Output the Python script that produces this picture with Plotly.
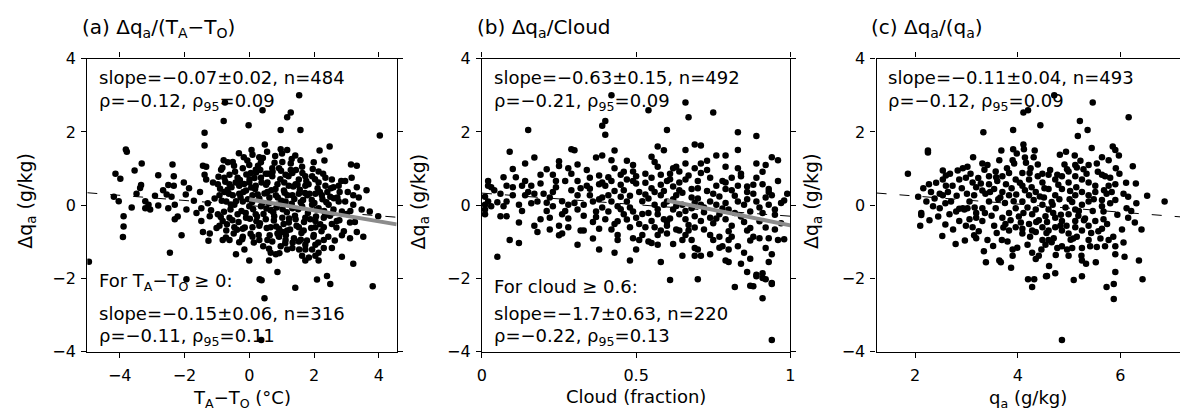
import plotly.graph_objects as go

# ---------------- data ----------------
# Panel (a): (T_A - T_O [degC], dq_a [g/kg])
panel_a_points = [
    (-0.75, 2.80), (1.54, 3.00), (0.41, 2.59), (1.17, 2.40), (1.28, 2.53), (-0.79, 2.30), (-0.02, 2.18),
    (0.97, 2.05), (1.58, 2.05), (-1.38, 1.98), (4.03, 1.90),
    (-1.38, 1.63), (0.48, 1.66), (0.97, 1.53), (1.17, 1.51), (2.17, 1.49), (2.48, 1.60), (-3.81, 1.52),
    (-3.78, 1.46), (0.07, 1.51), (0.10, 1.38), (-0.17, 1.31), (0.31, 1.31), (0.36, 1.17), (0.80, 1.34),
    (-0.79, 1.23), (-0.66, 1.17), (-0.51, 1.18), (1.58, 1.23), (1.63, 1.05), (1.99, 1.17), (3.14, 1.11),
    (3.32, 1.08), (-3.32, 1.14), (-2.37, 1.11), (-1.43, 1.08), (-1.33, 1.05), (1.02, 1.18), (0.92, 1.01),
    (0.71, 1.01), (1.28, 1.14), (0.00, 1.10),
    (-4.13, 0.86), (-3.98, 0.72), (-3.54, 0.95), (-2.81, 0.82), (-2.33, 0.79), (-1.38, 0.83), (-1.33, 0.70),
    (-0.87, 0.97), (-0.77, 0.75), (-0.61, 0.83), (-0.36, 0.75), (-0.20, 1.01), (0.05, 0.88), (0.20, 0.97),
    (0.36, 0.75), (0.51, 0.86), (0.71, 0.79), (1.12, 0.83), (1.33, 0.88), (1.53, 0.70), (1.73, 0.79),
    (1.94, 0.79), (2.14, 0.92), (2.35, 0.75), (2.55, 0.70), (2.76, 0.53), (2.96, 0.66), (3.16, 0.75),
    (3.32, 0.49), (-0.97, 0.57), (-0.61, 0.57), (-0.31, 0.53), (0.00, 0.62), (0.20, 0.53), (0.56, 0.62),
    (0.87, 0.57), (1.22, 0.53), (1.43, 0.57), (1.73, 0.53), (2.14, 0.62), (2.35, 0.53), (2.60, 0.49),
    (-2.50, 0.55), (-2.33, 0.53), (-3.34, 0.55), (-3.37, 0.47), (-1.86, 0.46), (-2.55, 0.29), (-2.40, 0.23),
    (-1.96, 0.29), (-4.18, 0.23), (-4.03, 0.11), (-3.21, 0.11), (-3.11, 0.01), (-3.21, -0.08), (-3.06, -0.12),
    (-2.81, -0.01), (-2.50, -0.08), (-2.30, 0.01), (-1.94, -0.12), (-1.63, -0.21), (-1.48, -0.08),
    (-1.28, 0.05), (-1.07, 0.18), (-0.92, 0.27), (-0.77, 0.36), (-0.51, 0.27), (-0.31, 0.31), (-0.10, 0.40),
    (0.10, 0.27), (0.31, 0.18), (0.56, 0.36), (0.82, 0.27), (1.07, 0.40), (1.33, 0.27), (1.53, 0.31),
    (1.79, 0.27), (2.04, 0.31), (2.24, 0.27), (2.50, 0.23), (2.76, 0.10), (2.96, 0.10), (3.21, 0.27),
    (3.21, 0.01), (3.47, -0.12), (3.72, -0.17), (3.98, -0.30), (-0.71, 0.10), (-0.46, 0.01), (-0.20, 0.10),
    (0.00, -0.03), (0.36, -0.03), (0.61, 0.05), (0.87, 0.01), (1.12, 0.10), (1.33, -0.08), (1.63, -0.03),
    (1.94, 0.01), (2.14, -0.08), (2.45, 0.01), (2.60, -0.12), (2.86, -0.17),
    (-3.88, -0.30), (-3.88, -0.58), (-3.90, -0.87), (-2.30, -0.38), (-1.48, -0.43), (-1.22, -0.30),
    (-0.97, -0.25), (-0.82, -0.43), (-0.61, -0.34), (-0.36, -0.25), (-0.10, -0.34), (0.20, -0.25),
    (0.51, -0.38), (0.77, -0.30), (1.02, -0.34), (1.22, -0.47), (1.43, -0.38), (1.73, -0.34), (2.04, -0.43),
    (2.30, -0.34), (2.55, -0.51), (2.70, -0.43), (3.11, -0.47), (-0.92, -0.56), (-0.71, -0.69),
    (-0.46, -0.60), (-0.20, -0.64), (0.10, -0.60), (0.31, -0.56), (0.66, -0.60), (0.92, -0.64), (1.17, -0.69),
    (1.53, -0.60), (2.04, -0.60), (2.30, -0.60), (-1.43, -0.73), (-1.22, -0.77), (-2.09, -0.82),
    (0.87, -0.77), (1.02, -0.73),
    (-0.82, -0.95), (-0.61, -0.95), (-0.20, -0.86), (0.10, -0.86), (0.31, -0.95), (0.56, -0.95),
    (0.92, -0.86), (1.12, -0.95), (1.38, -0.90), (1.53, -0.99), (1.73, -1.08), (2.04, -1.08), (2.30, -0.95),
    (3.11, -0.90), (2.86, -0.82), (3.32, -0.73), (-0.15, -1.21), (0.97, -1.12), (1.17, -1.21), (1.33, -1.17),
    (1.73, -1.21), (1.94, -1.21), (2.14, -1.30), (2.30, -1.17), (2.55, -1.17), (1.63, -1.38), (1.84, -1.43),
    (2.04, -1.38), (2.14, -1.51), (0.66, -1.30), (0.82, -1.34), (-2.45, -1.30), (-0.41, -1.34), (0.00, -1.51),
    (0.61, -1.51), (1.73, -1.51), (2.86, -1.41), (3.21, -1.60), (-4.95, -1.54),
    (0.87, -1.82), (2.09, -2.03), (2.40, -1.93), (2.50, -2.15), (1.42, -2.25), (3.81, -2.21), (0.47, -2.54),
    (0.32, -2.02), (0.38, -2.05), (-1.94, -2.02), (0.37, -3.68),
    (-0.90, 0.45), (-0.85, 0.12), (-0.78, -0.18), (-0.74, 0.64), (-0.69, -0.52), (-0.63, 0.31), (-0.58, -0.12),
    (-0.55, 0.49), (-0.48, -0.77), (-0.44, 0.91), (-0.41, 0.11), (-0.33, -0.46), (-0.29, 0.69), (-0.24, -0.16),
    (-0.18, 0.36), (-0.14, -0.61), (-0.09, 0.84), (-0.04, 0.16), (0.02, -0.37), (0.06, 0.48), (0.12, -0.11),
    (0.16, 0.74), (0.22, -0.44), (0.26, 0.29), (0.29, -0.81), (0.34, 0.96), (0.41, 0.06), (0.44, -0.24),
    (0.52, 0.56), (0.54, -0.62), (0.62, 0.21), (0.66, -0.14), (0.72, 0.91), (0.76, -0.42), (0.81, 0.44),
    (0.84, -0.06), (0.91, -0.84), (0.96, 0.71), (0.99, 0.12), (1.06, -0.51), (1.09, 0.34), (1.16, -0.19),
    (1.21, 0.79), (1.26, -0.66), (1.31, 0.04), (1.36, 0.51), (1.41, -0.29), (1.44, 0.96), (1.51, -0.11),
    (1.56, 0.42), (1.61, -0.76), (1.66, 0.14), (1.69, -0.46), (1.76, 0.66), (1.81, -0.21), (1.86, 0.31),
    (1.91, -0.62), (1.96, 0.99), (2.01, 0.06), (2.06, -0.31), (2.11, 0.46), (2.19, -0.52), (2.26, 0.16),
    (2.31, -0.16), (2.41, 0.36), (2.49, -0.29), (2.61, 0.19), (2.69, -0.61), (2.79, 0.36), (3.01, -0.24),
    (1.11, -1.04), (0.71, -0.99), (1.59, -0.94), (0.42, 1.29), (1.01, 1.41), (-0.31, -1.01), (1.99, -0.81),
    (0.21, 0.89), (1.31, 1.26), (0.61, -1.19),
    (-0.95, 0.78), (-0.88, -0.32), (-0.83, 1.02), (-0.72, -0.88), (-0.67, 0.42), (-0.57, 0.02), (-0.52, -0.41),
    (-0.47, 1.08), (-0.42, 0.62), (-0.38, -0.67), (-0.27, 0.21), (-0.22, -0.93), (-0.16, 0.58), (-0.11, -0.21),
    (-0.06, 1.22), (0.01, 0.71), (0.04, -0.78), (0.09, 0.09), (0.14, -1.02), (0.18, 0.44), (0.24, -0.31),
    (0.27, 1.08), (0.33, -0.49), (0.38, 0.62), (0.43, -1.12), (0.47, 0.32), (0.53, -0.09), (0.58, 0.86),
    (0.63, -0.82), (0.68, 0.41), (0.74, -0.19), (0.78, 1.16), (0.83, -0.58), (0.88, 0.21), (0.93, -1.31),
    (0.98, 0.94), (1.03, -0.11), (1.08, 0.62), (1.13, -0.82), (1.18, 0.27), (1.23, -0.36), (1.28, 0.96),
    (1.34, -1.02), (1.39, 0.17), (1.46, -0.56), (1.49, 0.56), (1.54, -1.21), (1.59, 0.08), (1.64, 0.88),
    (1.68, -0.69), (1.72, 0.33), (1.78, -0.96), (1.83, 0.57), (1.88, -0.38), (1.93, 0.14), (1.98, -0.86),
    (2.03, 0.71), (2.08, -0.12), (2.13, -1.02), (2.18, 0.36), (2.23, -0.71), (2.28, 0.86), (2.34, -0.26),
    (2.38, 0.08), (2.44, -0.86), (2.52, 0.46), (2.58, -0.21), (2.64, -0.96), (2.72, 0.21), (2.78, -0.41),
    (2.84, 0.66), (2.92, -0.71), (3.04, 0.36), (3.12, -0.16), (3.26, -0.46), (3.38, 0.21), (3.52, -0.86),
    (3.62, 0.41), (-1.12, 0.62), (-1.18, -0.14), (-1.52, 0.36), (-1.71, 0.12), (-2.02, 0.62), (-2.21, -0.31),
    (-2.66, 0.41), (-2.91, 0.26), (-3.48, 0.31), (-3.63, -0.06), (-1.01, -0.62), (-1.26, -0.97), (0.55, 1.46),
    (1.42, 1.36), (2.32, 1.22), (-0.32, 1.42),
]

# Panel (b): (cloud fraction, dq_a [g/kg])
panel_b_points = [
    (0.42, 3.00), (0.66, 2.80), (0.54, 2.59), (0.75, 2.53), (0.67, 2.40), (0.40, 2.30), (0.39, 2.17),
    (0.15, 2.05), (0.60, 2.05), (0.40, 1.92), (0.83, 1.99), (0.89, 1.89),
    (0.09, 1.46), (0.29, 1.53), (0.30, 1.50), (0.43, 1.49), (0.57, 1.60), (0.59, 1.50), (0.66, 1.51),
    (0.69, 1.66), (0.71, 1.63), (0.83, 1.51), (0.17, 1.30), (0.14, 1.14), (0.37, 1.30), (0.39, 1.36),
    (0.10, 0.99), (0.25, 1.20), (0.25, 1.07), (0.28, 1.01), (0.31, 1.11), (0.42, 1.23), (0.43, 1.01),
    (0.49, 1.10), (0.49, 0.92), (0.56, 1.18), (0.57, 1.05), (0.62, 1.01), (0.63, 1.05), (0.64, 0.92),
    (0.66, 1.14), (0.69, 1.01), (0.71, 1.14), (0.71, 0.88), (0.76, 1.36), (0.79, 1.36), (0.79, 1.05),
    (0.83, 1.01), (0.84, 0.79), (0.89, 1.14), (0.92, 1.10), (0.94, 1.31), (0.96, 1.23),
    (0.19, 0.83), (0.21, 0.98), (0.23, 0.83), (0.27, 0.66), (0.31, 0.66), (0.35, 0.75), (0.38, 0.81),
    (0.39, 0.62), (0.45, 0.83), (0.47, 0.70), (0.50, 0.79), (0.55, 0.75), (0.58, 0.83), (0.60, 0.66),
    (0.64, 0.62), (0.66, 0.70), (0.70, 0.66), (0.74, 0.75), (0.76, 0.53), (0.79, 0.62), (0.81, 0.75),
    (0.83, 0.53), (0.86, 0.36), (0.89, 0.75), (0.91, 0.57), (0.93, 0.44), (0.94, 0.27), (0.99, 0.31),
    (0.02, 0.66), (0.02, 0.53), (0.03, 0.49), (0.01, 0.23), (0.01, 0.01), (0.01, -0.12), (0.01, -0.25),
    (0.02, 0.10), (0.03, -0.03), (0.06, 0.31), (0.08, 0.53), (0.08, 0.10), (0.07, -0.03), (0.10, 0.49),
    (0.10, 0.27), (0.06, -0.30), (0.08, -0.30), (0.12, 0.01), (0.13, 0.53), (0.14, 0.27), (0.16, 0.05),
    (0.18, 0.10), (0.16, 0.53), (0.17, 0.31), (0.12, -0.47),
    (0.19, -0.38), (0.22, -0.34), (0.20, 0.31), (0.23, 0.36), (0.23, -0.03), (0.26, -0.25), (0.25, -0.56),
    (0.28, -0.60), (0.28, 0.01), (0.31, 0.27), (0.31, -0.12), (0.33, 0.01), (0.33, -0.69), (0.34, 0.53),
    (0.35, 0.27), (0.36, 0.10), (0.37, -0.17), (0.38, -0.64), (0.38, 0.57), (0.40, 0.53), (0.41, 0.27),
    (0.42, 0.10), (0.44, -0.03), (0.41, -0.17), (0.40, -0.38), (0.43, -0.51), (0.45, 0.23), (0.47, 0.10),
    (0.46, -0.25), (0.48, -0.60), (0.49, -0.17), (0.50, -0.34), (0.51, 0.36), (0.54, 0.18), (0.56, 0.01),
    (0.58, 0.27), (0.60, 0.10), (0.62, -0.12), (0.57, -0.25), (0.59, -0.38), (0.55, -0.43), (0.53, -0.60),
    (0.56, -0.60), (0.60, -0.56), (0.63, 0.27), (0.65, 0.01), (0.68, -0.08), (0.70, 0.18), (0.71, 0.01),
    (0.74, 0.10), (0.76, 0.01), (0.64, -0.25), (0.66, -0.38), (0.69, -0.30), (0.71, -0.43), (0.74, -0.34),
    (0.77, -0.25), (0.79, -0.38), (0.80, -0.12), (0.83, 0.10), (0.85, 0.01), (0.87, -0.17), (0.89, 0.10),
    (0.91, -0.21), (0.93, 0.01), (0.95, -0.12),
    (0.18, -0.73), (0.12, -1.03), (0.09, -0.95), (0.05, -1.41), (0.25, -0.82), (0.26, -0.77), (0.31, -1.08),
    (0.32, -0.69), (0.38, -1.21), (0.43, -1.30), (0.44, -0.95), (0.48, -1.51), (0.49, -0.90), (0.51, -0.95),
    (0.54, -0.99), (0.55, -1.03), (0.57, -1.08), (0.50, -1.21), (0.58, -0.69), (0.60, -0.77), (0.64, -0.69),
    (0.65, -0.95), (0.67, -0.69), (0.68, -0.95), (0.69, -1.17), (0.70, -1.21), (0.65, -1.38), (0.69, -1.38),
    (0.71, -1.38), (0.74, -1.34), (0.75, -0.95), (0.77, -0.86), (0.78, -1.12), (0.80, -0.95), (0.80, -1.21),
    (0.83, -1.12), (0.79, -1.51), (0.80, -1.55), (0.85, -1.30), (0.81, -0.86), (0.86, -0.69), (0.88, -0.86),
    (0.90, -0.90), (0.93, -0.90), (0.96, -0.95), (0.98, -0.93), (0.92, -1.17), (0.94, -1.34), (0.93, -1.55),
    (0.84, -1.60), (0.86, -1.82), (0.89, -1.90), (0.91, -1.86), (0.94, -2.15), (0.88, -2.21), (0.58, -1.55),
    (0.61, -2.04), (0.70, -2.02), (0.82, -2.23), (0.87, -2.20), (0.89, -1.94), (0.91, -1.99), (0.92, -2.02),
    (0.94, -2.12), (0.91, -2.54), (0.94, -3.68),
    (0.35, 0.45), (0.37, -0.32), (0.39, 0.21), (0.42, 0.66), (0.44, -0.44), (0.46, 0.41), (0.48, -0.06),
    (0.50, 0.59), (0.52, -0.24), (0.53, 0.29), (0.55, 0.46), (0.57, -0.11), (0.59, 0.39), (0.61, -0.36),
    (0.62, 0.51), (0.63, -0.02), (0.65, 0.34), (0.67, -0.54), (0.68, 0.44), (0.69, 0.07), (0.72, -0.19),
    (0.73, 0.39), (0.75, -0.49), (0.77, 0.24), (0.78, -0.09), (0.79, 0.44), (0.81, -0.56), (0.82, 0.26),
    (0.84, -0.31), (0.86, 0.51), (0.87, -0.62), (0.88, 0.31), (0.90, -0.44), (0.92, 0.21), (0.95, -0.66),
    (0.97, 0.06), (0.29, 0.41), (0.27, -0.16), (0.24, 0.49), (0.21, 0.07), (0.53, 0.61), (0.61, 0.71),
    (0.72, -0.66), (0.66, -0.81), (0.52, -0.81), (0.45, 0.56),
    (0.04, 0.41), (0.05, 0.08), (0.11, 0.76), (0.13, -0.16), (0.15, 0.36), (0.17, -0.56), (0.19, 0.59),
    (0.21, -0.16), (0.22, 0.21), (0.24, 0.66), (0.26, 0.11), (0.28, -0.36), (0.29, 0.86), (0.30, 0.06),
    (0.32, 0.46), (0.33, -0.29), (0.34, 0.96), (0.36, -0.46), (0.38, 0.16), (0.39, -0.06), (0.41, 0.76),
    (0.42, -0.66), (0.43, 0.39), (0.45, -0.11), (0.46, 0.91), (0.47, -0.39), (0.48, 0.26), (0.49, 0.66),
    (0.51, -0.51), (0.52, 0.11), (0.53, 0.86), (0.54, -0.21), (0.56, 0.36), (0.57, -0.81), (0.58, 0.56),
    (0.59, 0.01), (0.60, -0.46), (0.61, 0.86), (0.62, 0.16), (0.63, -0.66), (0.64, 0.41), (0.66, -0.16),
    (0.67, 0.81), (0.68, 0.21), (0.69, -0.61), (0.70, 0.46), (0.72, -0.06), (0.73, 0.96), (0.74, -0.81),
    (0.75, 0.31), (0.76, -0.36), (0.78, 0.66), (0.79, 0.06), (0.80, -0.71), (0.81, 0.41), (0.82, -0.21),
    (0.84, 0.86), (0.85, -0.46), (0.86, 0.16), (0.87, -0.96), (0.88, 0.56), (0.90, -0.06), (0.91, 0.91),
    (0.92, -0.61), (0.93, 0.36), (0.95, -0.26), (0.96, 0.66), (0.97, -0.49), (0.98, 0.13), (0.55, 1.32),
    (0.47, 1.21), (0.73, 1.21), (0.62, -1.06), (0.77, -1.16), (0.87, -1.46), (0.44, -0.81), (0.36, -0.91),
    (0.22, -0.66), (0.14, 0.66), (0.07, 0.76),
]

# Panel (c): (q_a [g/kg], dq_a [g/kg])
panel_c_points = [
    (4.71, 3.00), (5.46, 2.80), (4.11, 2.53), (4.20, 2.59), (5.21, 2.30), (6.16, 2.40), (4.44, 2.18),
    (3.33, 1.99), (3.91, 2.05), (5.36, 2.05), (5.17, 1.89),
    (2.25, 1.49), (2.25, 1.44), (4.11, 1.66), (4.12, 1.53), (3.91, 1.53), (3.68, 1.49), (4.33, 1.49),
    (3.13, 1.31), (4.82, 1.38), (5.11, 1.36), (5.85, 1.60), (5.90, 1.51), (4.14, 1.30), (4.31, 1.31),
    (3.90, 1.23), (3.93, 1.14), (3.64, 1.23), (3.31, 1.14), (3.41, 1.10), (3.35, 0.97), (3.02, 1.05),
    (2.93, 1.01), (2.83, 0.95), (2.54, 0.95), (2.60, 0.81), (1.86, 0.86), (4.25, 1.01), (4.23, 0.88),
    (4.48, 0.86), (4.60, 0.83), (4.77, 0.83), (4.96, 0.98), (5.12, 1.10), (5.15, 1.03), (5.28, 0.98),
    (5.38, 1.10), (5.54, 1.14), (5.64, 1.31), (5.77, 1.23), (5.64, 0.83), (5.70, 0.79), (5.91, 1.01),
    (5.80, 0.75), (2.27, 0.57), (2.64, 0.36), (2.54, 0.27), (2.70, 0.10), (2.86, -0.10), (2.96, -0.12),
    (3.02, -0.08), (2.73, 0.53), (2.86, 0.70), (2.99, 0.75), (3.12, 0.62), (3.19, 0.49), (3.15, 0.27),
    (3.31, 0.40), (3.44, 0.57), (3.54, 0.44), (3.60, 0.66), (3.77, 0.57), (3.70, 0.36), (3.83, 0.27),
    (2.06, 0.23), (2.12, -0.21), (2.12, -0.27), (2.10, -0.56), (2.59, 0.05), (2.59, -0.53), (2.53, -0.84),
    (3.06, -0.38), (3.19, -0.34), (3.31, -0.43), (3.12, -0.60), (3.15, -0.82), (3.19, -0.90), (3.41, -0.95),
    (3.38, -1.56), (3.67, -1.56), (3.64, -1.51), (3.54, -0.56), (3.69, -0.95), (3.80, -0.99), (3.90, -1.21),
    (3.90, -1.38), (4.06, -0.47), (4.09, -0.64), (4.22, -0.51), (4.28, -0.69), (4.19, -1.08), (4.28, -1.30),
    (4.35, -1.47), (4.41, -1.38), (4.48, -0.95), (4.54, -1.08), (4.60, -0.95), (4.70, -0.90), (4.77, -1.17),
    (4.86, -1.12), (4.96, -1.21), (4.99, -1.38), (5.06, -1.17), (5.15, -0.86), (5.25, -1.17), (5.24, -1.38),
    (5.25, -1.51), (5.33, -1.60), (5.38, -0.95), (5.41, -1.12), (5.54, -1.14), (5.70, -1.12), (5.77, -0.95),
    (5.86, -0.86), (5.90, -1.12), (5.90, -1.34), (6.06, -1.02), (5.90, -1.82), (6.36, -1.51),
    (4.57, -1.93), (4.73, -1.86),
    (4.20, -2.02), (4.32, -2.02), (4.28, -2.23), (4.55, -1.94), (5.09, -2.04), (5.25, -1.94), (5.73, -2.23),
    (5.87, -2.15), (5.87, -2.56), (6.43, -2.02), (4.86, -3.68),
    (5.64, 0.14), (5.64, -0.03), (5.67, -0.17), (5.67, -0.38), (5.64, -0.64), (5.80, 0.05), (5.90, 0.14),
    (6.06, 0.31), (6.15, 0.23), (6.12, -0.08), (6.15, -0.34), (6.28, -0.47), (6.30, 0.59), (6.31, 0.05),
    (6.86, 0.10), (5.38, 0.62), (5.51, 0.53), (5.77, 0.53), (5.90, 0.57), (5.51, 0.36), (5.38, 0.27),
    (5.25, 0.36), (5.12, 0.27), (5.38, 0.10), (5.25, 0.01), (5.12, -0.12), (4.99, -0.25), (5.12, -0.43),
    (4.86, -0.43), (4.73, -0.34), (4.54, -0.30), (4.60, -0.12), (4.48, 0.01), (4.35, -0.12), (4.28, -0.25),
    (4.73, 0.27), (4.86, 0.44), (4.99, 0.62), (4.60, 0.44), (4.48, 0.62), (4.35, 0.36), (4.22, 0.27),
    (4.09, 0.10), (3.96, -0.08), (3.83, -0.21), (3.70, -0.34), (3.57, -0.08), (3.44, 0.10), (3.31, -0.08),
    (3.19, -0.21), (3.06, 0.10), (3.96, 0.70), (4.09, 0.53), (4.22, 0.70), (4.09, 0.88), (3.83, 0.88),
    (3.70, 0.79), (3.57, 0.92), (3.44, 0.79), (4.73, 0.70), (4.86, 0.79), (4.99, 0.92), (5.12, 0.79),
    (5.25, 0.70), (3.83, -0.69), (3.96, -0.60), (4.09, -0.77), (4.35, -0.73), (4.48, -0.60), (4.60, -0.69),
    (4.73, -0.60), (4.86, -0.69), (4.99, -0.77), (5.12, -0.60), (5.25, -0.69), (5.38, -0.56), (5.51, -0.43),
    (2.93, -0.08), (2.80, -0.17), (2.86, -0.43), (2.99, -0.56), (2.67, -0.25), (2.48, -0.08), (2.35, -0.03),
    (2.38, 0.18), (2.48, 0.31), (2.31, 0.36), (2.22, 0.10), (2.60, 0.53), (2.54, 0.70),
    (3.37, 0.31), (3.49, -0.29), (3.62, 0.16), (3.75, 0.06), (3.88, 0.46), (4.02, -0.31), (4.14, 0.41),
    (4.19, -0.06), (4.31, 0.14), (4.41, -0.41), (4.43, 0.24), (4.52, 0.46), (4.57, -0.46), (4.66, 0.09),
    (4.69, -0.21), (4.81, 0.16), (4.83, -0.56), (4.93, -0.06), (5.02, 0.39), (5.06, 0.09), (5.18, -0.29),
    (5.31, -0.36), (5.46, -0.16), (5.57, -0.71), (5.73, 0.31), (3.97, 0.29), (3.76, -0.51), (3.23, 0.74),
    (4.39, 1.11), (4.66, -1.01), (5.03, -0.94), (3.59, -0.76), (3.01, 0.31),
    (2.16, 0.46), (2.28, -0.41), (2.41, 0.61), (2.45, -0.31), (2.68, 0.86), (2.74, -0.66), (2.81, 0.26),
    (2.91, 0.46), (2.97, -0.96), (3.08, 0.86), (3.16, -0.06), (3.24, -0.71), (3.28, 0.59), (3.36, -0.21),
    (3.46, 0.36), (3.52, -1.11), (3.58, 0.76), (3.66, 0.21), (3.72, -0.61), (3.79, 1.01), (3.86, -0.41),
    (3.92, 0.11), (3.99, -1.16), (4.04, 0.61), (4.11, -0.21), (4.16, 1.16), (4.24, -0.86), (4.27, 0.49),
    (4.36, -0.46), (4.39, 0.79), (4.46, -1.21), (4.51, 0.21), (4.56, -0.76), (4.63, 0.96), (4.68, 0.01),
    (4.74, -1.36), (4.79, 0.56), (4.84, -0.26), (4.91, 1.11), (4.95, -0.56), (5.01, 0.16), (5.08, -0.91),
    (5.14, 0.49), (5.19, -0.16), (5.22, 1.21), (5.29, -0.41), (5.34, 0.86), (5.43, -0.76), (5.48, 0.16),
    (5.56, 0.91), (5.61, -0.91), (5.68, 0.41), (5.74, -0.51), (5.83, 0.36), (5.94, -0.26), (5.98, 0.86),
    (6.03, -0.66), (6.11, 0.61), (6.21, -0.16), (6.24, 1.06), (6.41, -0.66), (6.52, 0.26), (6.08, -1.41),
    (5.52, -1.56), (4.61, -1.66), (3.87, -1.71), (3.34, -1.26), (2.79, -1.06), (4.94, 1.46), (3.98, 1.41),
    (5.44, 1.56), (5.97, 1.36),
]

# Regression lines: (slope, intercept)
fit_a_all = (-0.07, -0.01)      # dashed, all points
fit_a_pos = (-0.15, 0.16)       # grey, T_A - T_O >= 0
fit_b_all = (-0.63, 0.33)
fit_b_cld = (-1.70, 1.15)       # grey, cloud >= 0.6
fit_c_all = (-0.11, 0.47)

x_range_a = [-5.0, 4.55]
x_range_b = [0.0, 1.0]
x_range_c = [1.25, 7.16]
y_range = [-4, 4]
y_ticks = [-4, -2, 0, 2, 4]
x_ticks_a = [-4, -2, 0, 2, 4]
x_ticks_b = [0, 0.5, 1]
x_ticks_c = [2, 4, 6]

# ---------------- figure ----------------
W, H = 1185, 420
FONT = "DejaVu Sans, Verdana, sans-serif"
TICK_FS = 16
TXT_FS = 18


def px(x):
    return x / W


def py(y):
    return (H - y) / H


fig = go.Figure()

panels = [
    (panel_a_points, "x", "y", x_range_a, fit_a_all, (0.0, x_range_a[1], fit_a_pos)),
    (panel_b_points, "x2", "y2", x_range_b, fit_b_all, (0.6, 1.0, fit_b_cld)),
    (panel_c_points, "x3", "y3", x_range_c, fit_c_all, None),
]

for pts, xa, ya, xr, fit, sub in panels:
    fig.add_trace(go.Scatter(
        x=[p[0] for p in pts], y=[p[1] for p in pts], mode="markers",
        marker=dict(size=6.5, color="black", line=dict(width=0)),
        xaxis=xa, yaxis=ya, showlegend=False, hoverinfo="skip"))
    s, b = fit
    fig.add_trace(go.Scatter(
        x=[xr[0], xr[1]], y=[b + s * xr[0], b + s * xr[1]], mode="lines",
        line=dict(color="black", width=1, dash="10px,13px"),
        xaxis=xa, yaxis=ya, showlegend=False, hoverinfo="skip"))
    if sub is not None:
        x0, x1, (s2, b2) = sub
        fig.add_trace(go.Scatter(
            x=[x0, x1], y=[b2 + s2 * x0, b2 + s2 * x1], mode="lines",
            line=dict(color="#8c8c8c", width=4),
            xaxis=xa, yaxis=ya, showlegend=False, hoverinfo="skip"))

ydom = [py(359), py(52)]
doms = [[px(83), px(395)], [px(481), px(792)], [px(879), 1.0]]

axis_common = dict(showline=True, linecolor="black", linewidth=1.3, ticks="outside",
                   ticklen=5, tickwidth=1.3, tickcolor="black", showgrid=False,
                   zeroline=False, tickfont=dict(family=FONT, size=TICK_FS, color="black"))

fig.update_layout(
    width=W, height=H, margin=dict(l=0, r=0, t=0, b=0),
    paper_bgcolor="white", plot_bgcolor="white",
    font=dict(family=FONT, size=TXT_FS, color="black"),
    xaxis=dict(domain=doms[0], range=x_range_a, tickvals=x_ticks_a, anchor="y", mirror="ticks",
               ticklabelstandoff=4, **axis_common),
    yaxis=dict(domain=ydom, range=y_range, tickvals=y_ticks, anchor="x", mirror="ticks",
               ticklabelstandoff=2, **axis_common),
    xaxis2=dict(domain=doms[1], range=x_range_b, tickvals=x_ticks_b, ticktext=["0", "0.5", "1"],
                anchor="y2", mirror="ticks", ticklabelstandoff=4, **axis_common),
    yaxis2=dict(domain=ydom, range=y_range, tickvals=y_ticks, anchor="x2", mirror="ticks",
                ticklabelstandoff=2, **axis_common),
    xaxis3=dict(domain=doms[2], range=x_range_c, tickvals=x_ticks_c, anchor="y3", mirror="ticks",
                ticklabelstandoff=4, **axis_common),
    yaxis3=dict(domain=ydom, range=y_range, tickvals=y_ticks, anchor="x3", mirror=False,
                ticklabelstandoff=2, **axis_common),
)

annots = []


def txt(text, x, y, xanchor="left", yanchor="middle", angle=0, size=TXT_FS):
    annots.append(dict(text=text, x=px(x), y=py(y), xref="paper", yref="paper",
                       xanchor=xanchor, yanchor=yanchor, showarrow=False, textangle=angle,
                       font=dict(family=FONT, size=size, color="black")))


# panel titles
txt("(a) Δq<sub>a</sub>/(T<sub>A</sub>−T<sub>O</sub>)", 76, 20, size=20)
txt("(b) Δq<sub>a</sub>/Cloud", 474, 20, size=20)
txt("(c) Δq<sub>a</sub>/(q<sub>a</sub>)", 871, 20, size=20)

# y-axis titles
for xc in (22, 418, 815):
    txt("Δq<sub>a</sub> (g/kg)", xc, 201, xanchor="center", angle=-90, size=19)

# x-axis titles
txt("T<sub>A</sub>−T<sub>O</sub> (°C)", 239, 408, xanchor="center", size=18)
txt("Cloud (fraction)", 636, 406, xanchor="center", size=18)
txt("q<sub>a</sub> (g/kg)", 1032, 408, xanchor="center", size=18)

# statistics text
txt("slope=−0.07±0.02, n=484", 93, 72)
txt("ρ=−0.12, ρ<sub>95</sub>=0.09", 93, 97)
txt("For T<sub>A</sub>−T<sub>O</sub> ≥ 0:", 93, 286)
txt("slope=−0.15±0.06, n=316", 93, 319)
txt("ρ=−0.11, ρ<sub>95</sub>=0.11", 93, 344)

txt("slope=−0.63±0.15, n=492", 491, 72)
txt("ρ=−0.21, ρ<sub>95</sub>=0.09", 491, 97)
txt("For cloud ≥ 0.6:", 491, 291)
txt("slope=−1.7±0.63, n=220", 491, 319)
txt("ρ=−0.22, ρ<sub>95</sub>=0.13", 491, 344)

txt("slope=−0.11±0.04, n=493", 889, 72)
txt("ρ=−0.12, ρ<sub>95</sub>=0.09", 889, 97)

fig.update_layout(annotations=annots)

fig.write_html("out.html")
